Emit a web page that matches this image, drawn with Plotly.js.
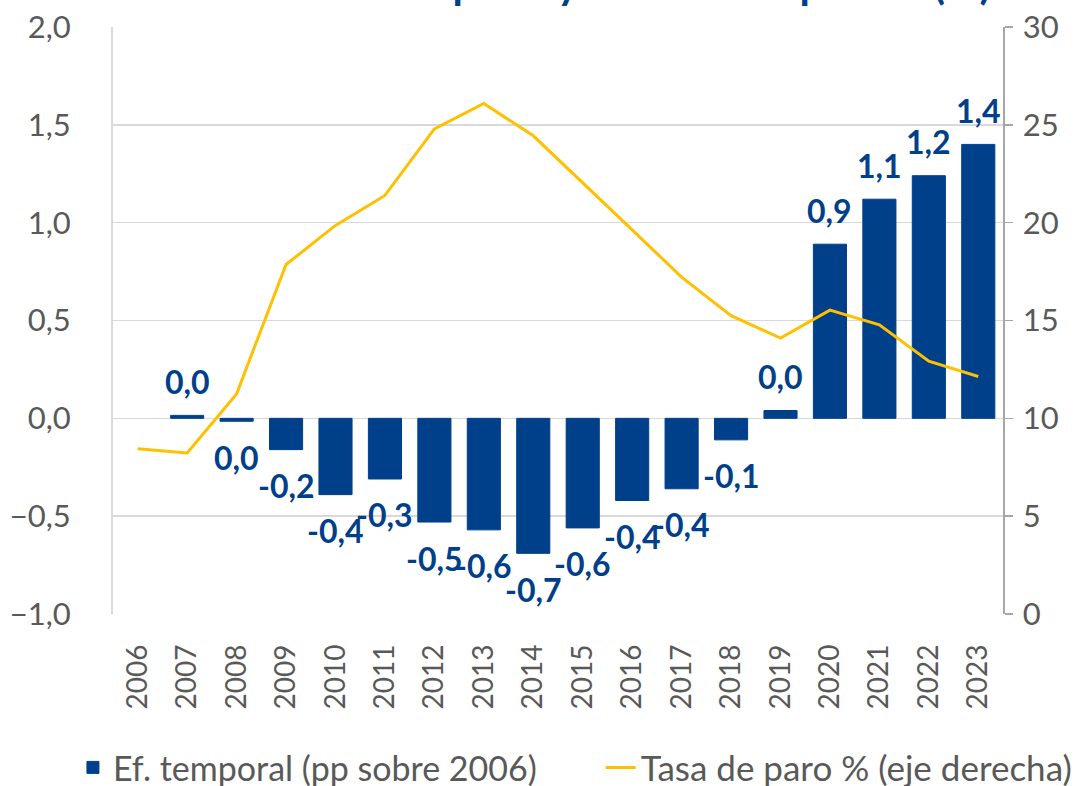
<!DOCTYPE html>
<html>
<head>
<meta charset="utf-8">
<script src="https://cdn.plot.ly/plotly-3.0.1.min.js"></script>
<style>html,body{margin:0;padding:0;background:#fff;}#chart{width:1084px;height:786px;}</style>
</head>
<body>
<div id="chart"></div>
<script>
const years = ['2006','2007','2008','2009','2010','2011','2012','2013','2014','2015','2016','2017','2018','2019','2020','2021','2022','2023'];
const efTemporal = [null, 0.015, -0.015, -0.16, -0.39, -0.31, -0.53, -0.57, -0.69, -0.56, -0.42, -0.36, -0.11, 0.04, 0.89, 1.12, 1.24, 1.40];
const tasaParo = [8.45, 8.23, 11.25, 17.86, 19.86, 21.39, 24.79, 26.09, 24.44, 22.06, 19.63, 17.22, 15.25, 14.10, 15.53, 14.78, 12.92, 12.14];
const leftTicks = [-1, -0.5, 0, 0.5, 1, 1.5, 2];
const rightTicks = [0, 5, 10, 15, 20, 25, 30];
const barName = 'Ef. temporal (pp sobre 2006)';
const lineName = 'Tasa de paro % (eje derecha)';
const titleText = 'Efecto temporal y tasa de ocupación (%)';

const BLUE = '#00408a';
const GOLD = '#ffc000';
const GREY = '#595959';
const GRID = '#d9d9d9';
const FONT = 'Lato, "Open Sans", sans-serif';

function fmt(v) {
  let r = Math.round(v * 10) / 10;
  if (Math.abs(r) < 0.05) r = 0;
  return r.toFixed(1).replace('.', ',');
}

const barTrace = {
  type: 'bar', x: years, y: efTemporal, name: barName,
  marker: {color: BLUE, line: {color: BLUE, width: 1}}, width: 0.67, yaxis: 'y', legend: 'legend',
  hoverinfo: 'x+y'
};
const lineTrace = {
  type: 'scatter', mode: 'lines', x: years, y: tasaParo, name: lineName,
  line: {color: GOLD, width: 3}, yaxis: 'y2', legend: 'legend2'
};

const annotations = [];
years.forEach((yr, i) => {
  const v = efTemporal[i];
  if (v === null) return;
  annotations.push({
    x: i, y: v, xref: 'x', yref: 'y', text: fmt(v), showarrow: false,
    yanchor: 'middle', xanchor: 'center', yshift: v >= 0 ? 34 : -36,
    font: {family: FONT, size: 32, color: BLUE, weight: 'bold'}
  });
});
annotations.push({
  xref: 'paper', yref: 'paper', x: 0.989, y: 1, xanchor: 'right', yanchor: 'bottom',
  yshift: 17, text: '<b>' + titleText + '</b>', showarrow: false,
  font: {family: FONT, size: 42, color: BLUE}
});

const layout = {
  width: 1084, height: 786,
  margin: {l: 113, r: 81, t: 27, b: 172, autoexpand: false},
  paper_bgcolor: '#fff', plot_bgcolor: '#fff',
  separators: ',.',
  showlegend: true,
  font: {family: FONT, color: GREY},
  xaxis: {
    type: 'category', range: [-0.5, years.length - 0.5], tickangle: -90,
    showgrid: false, zeroline: false,
    showline: false, ticks: '', ticklabelstandoff: 24,
    tickfont: {family: FONT, size: 28, color: GREY}, fixedrange: true
  },
  yaxis: {
    range: [-1, 2], tickvals: leftTicks, tickformat: '.1f',
    showgrid: true, gridcolor: GRID, gridwidth: 1.5, zeroline: false,
    showline: true, linecolor: GRID, linewidth: 2, ticks: '',
    ticklabelstandoff: 34,
    tickfont: {family: FONT, size: 31, color: GREY}, fixedrange: true
  },
  yaxis2: {
    range: [0, 30], tickvals: rightTicks, overlaying: 'y', side: 'right',
    showgrid: false, zeroline: false, showline: true, linecolor: '#a6a6a6', linewidth: 1.5,
    ticks: 'outside', ticklen: 8, tickcolor: '#a6a6a6', tickwidth: 1.5,
    ticklabelstandoff: 4,
    tickfont: {family: FONT, size: 31, color: GREY}, fixedrange: true
  },
  legend: {
    orientation: 'h', x: -0.045, xanchor: 'left', y: -0.262, yanchor: 'middle',
    font: {family: FONT, size: 34, color: GREY}, bgcolor: 'rgba(0,0,0,0)'
  },
  legend2: {
    orientation: 'h', x: 0.548, xanchor: 'left', y: -0.262, yanchor: 'middle',
    font: {family: FONT, size: 35, color: GREY}, bgcolor: 'rgba(0,0,0,0)'
  },
  annotations: annotations
};

Plotly.newPlot('chart', [barTrace, lineTrace], layout, {displayModeBar: false, staticPlot: true});
</script>
</body>
</html>
